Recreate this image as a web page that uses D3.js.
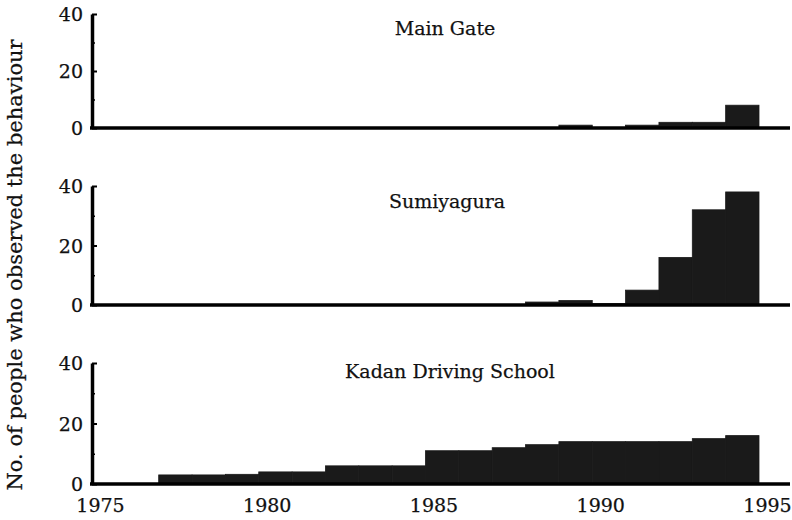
<!DOCTYPE html>
<html>
<head>
<meta charset="utf-8">
<script src="https://cdn.jsdelivr.net/npm/d3@7"></script>
<style>
  html, body { margin: 0; padding: 0; background: #fff; }
  svg { display: block; }
  text { font-family: "DejaVu Serif", serif; fill: #111; stroke: #111; stroke-width: 0.25px; }
</style>
</head>
<body>
<svg id="chart" width="792" height="520"></svg>
<script>
// ---- data ----
const years = [1975,1976,1977,1978,1979,1980,1981,1982,1983,1984,1985,1986,1987,1988,1989,1990,1991,1992,1993,1994];
const mainGate   = [0,0,0,0,0,0,0,0,0,0,0,0,0,0,1,0,1,2,2,8];
const sumiyagura = [0,0,0,0,0,0,0,0,0,0,0,0,0,1,1.5,0.5,5,16,32,38];
const kadan      = [0,0,3,3,3.2,4,4,6,6,6,11,11,12,13,14,14,14,14,15,16];
const panelTitles = ["Main Gate", "Sumiyagura", "Kadan Driving School"];
const xTicks = [1975, 1980, 1985, 1990, 1995];
const yMajorTicks = [0, 20, 40];
const yMinorTicks = [10, 30];
const yTitle = "No. of people who observed the behaviour";

const seriesList = [mainGate, sumiyagura, kadan];

// ---- layout ----
const svg = d3.select("#chart");
const x = d3.scaleLinear().domain([1975, 1995]).range([92, 759]);
const panels = [
  { y0: 128, y40: 14,  titleX: 445, titleY: 35 },
  { y0: 305, y40: 186, titleX: 447, titleY: 208 },
  { y0: 484, y40: 363, titleX: 450, titleY: 378 }
];

panels.forEach((p, i) => {
  const y = d3.scaleLinear().domain([0, 40]).range([p.y0, p.y40]);
  const g = svg.append("g");
  const data = years.map((yr, k) => ({ year: yr, v: seriesList[i][k] })).filter(d => d.v > 0);

  // bars
  g.selectAll("rect.bar").data(data).join("rect")
    .attr("class", "bar")
    .attr("x", d => x(d.year))
    .attr("width", d => x(d.year + 1) - x(d.year))
    .attr("y", d => y(d.v))
    .attr("height", d => y(0) - y(d.v))
    .attr("fill", "#1a1a1a")
    .attr("stroke", "#1a1a1a")
    .attr("stroke-width", 0.8);

  // baseline
  g.append("line")
    .attr("x1", x(1975) - 2).attr("x2", 790)
    .attr("y1", y(0)).attr("y2", y(0))
    .attr("stroke", "#000").attr("stroke-width", 3.5);

  // y axis (major)
  const yAxis = d3.axisLeft(y).tickValues(yMajorTicks).tickSizeInner(-5).tickSizeOuter(0).tickPadding(9).tickFormat(d3.format("d"));
  const ga = g.append("g").attr("transform", `translate(${x(1975)},0)`).call(yAxis);
  ga.select(".domain").attr("stroke", "#000").attr("stroke-width", 3.5);
  ga.selectAll(".tick line").attr("stroke", "#000").attr("stroke-width", 2);
  ga.selectAll(".tick text").style("font-family", "'DejaVu Serif', serif").style("font-size", "19px")
    .attr("fill", "#111").attr("stroke", "#111").attr("stroke-width", 0.25).attr("dy", "0.36em");

  // y axis (minor)
  const yMinor = d3.axisLeft(y).tickValues(yMinorTicks).tickSizeInner(-3).tickSizeOuter(0).tickFormat("");
  const gm = g.append("g").attr("transform", `translate(${x(1975)},0)`).call(yMinor);
  gm.select(".domain").remove();
  gm.selectAll(".tick line").attr("stroke", "#000").attr("stroke-width", 1.5);

  // title
  g.append("text")
    .attr("x", p.titleX).attr("y", p.titleY)
    .attr("text-anchor", "middle")
    .style("font-size", "19px")
    .text(panelTitles[i]);

  // x axis labels on the bottom panel only
  if (i === panels.length - 1) {
    const xAxis = d3.axisBottom(x).tickValues(xTicks).tickSize(0).tickPadding(15).tickFormat(d3.format("d"));
    const gx = g.append("g").attr("transform", `translate(0,${y(0)})`).call(xAxis);
    gx.select(".domain").remove();
    gx.selectAll(".tick text").style("font-family", "'DejaVu Serif', serif").style("font-size", "19px")
      .attr("fill", "#111").attr("stroke", "#111").attr("stroke-width", 0.25).attr("dx", 8);
  }
});

// y-axis title
svg.append("text")
  .attr("transform", "translate(22,265) rotate(-90)")
  .attr("text-anchor", "middle")
  .style("font-size", "21px")
  .text(yTitle);
</script>
</body>
</html>
